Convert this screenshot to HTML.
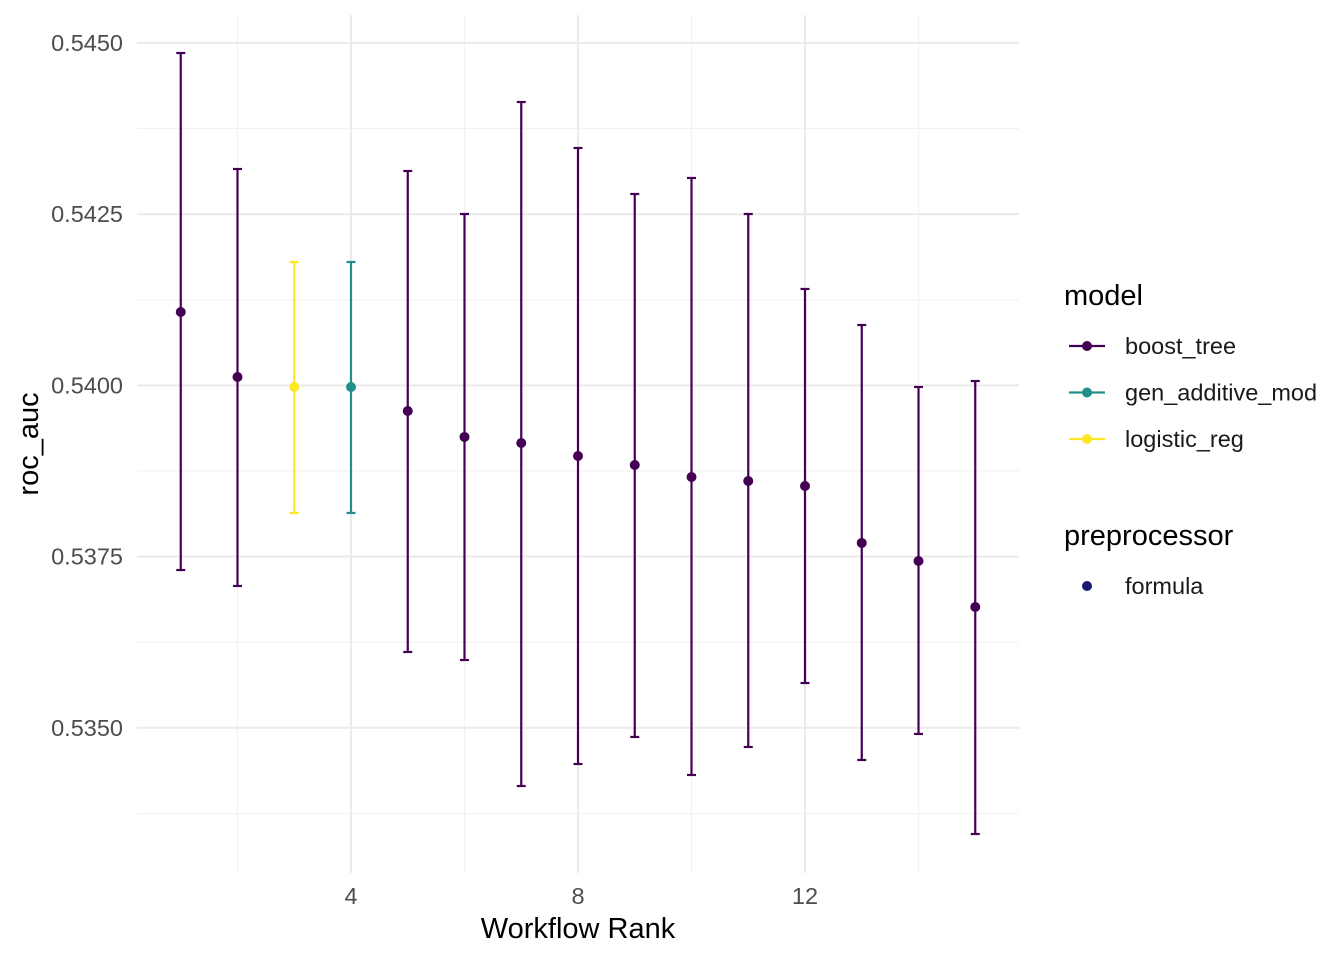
<!DOCTYPE html>
<html><head><meta charset="utf-8"><style>
html,body{margin:0;padding:0;background:#fff;}
svg{display:block;font-family:"Liberation Sans",sans-serif;}
</style></head><body>
<svg id="chart" width="1344" height="960"></svg>
<script>
const ranks=[1,2,3,4,5,6,7,8,9,10,11,12,13,14,15];
const models=["boost_tree","boost_tree","logistic_reg","gen_additive_mod","boost_tree","boost_tree","boost_tree","boost_tree","boost_tree","boost_tree","boost_tree","boost_tree","boost_tree","boost_tree","boost_tree"];
const means=[0.541072,0.540123,0.539977,0.539977,0.539626,0.539247,0.539159,0.538969,0.538838,0.538662,0.538604,0.538531,0.537699,0.537436,0.536764];
const uppers=[0.544854,0.54316,0.541802,0.541802,0.543131,0.542503,0.544138,0.543467,0.542795,0.543029,0.542503,0.541408,0.540882,0.539977,0.540064];
const lowers=[0.537304,0.537071,0.538137,0.538137,0.536107,0.53599,0.53415,0.534471,0.534866,0.534311,0.53472,0.535654,0.53453,0.53491,0.533449];
const xTicks=[4,8,12];
const xMinor=[2,6,10,14];
const yTicks=[0.5350,0.5375,0.5400,0.5425,0.5450];
const yTickLabels=["0.5350","0.5375","0.5400","0.5425","0.5450"];
const yMinor=[0.53375,0.53625,0.53875,0.54125,0.54375];
const legendModels=["boost_tree","gen_additive_mod","logistic_reg"];
const colors={boost_tree:"#440154",gen_additive_mod:"#21908C",logistic_reg:"#FDE725"};

const NS="http://www.w3.org/2000/svg";
const svg=document.getElementById('chart');
const PL=137,PR=1019,PT=15,PB=873;
const xs=v=>351+(v-4)*56.75;
const ys=v=>43+(0.5450-v)/0.0025*171.2;
function mk(tag,attrs,parent){const e=document.createElementNS(NS,tag);for(const k in attrs)e.setAttribute(k,attrs[k]);(parent||svg).appendChild(e);return e;}
function txt(s,attrs,name){const t=mk('text',attrs);t.textContent=s;


return t;}

const grid=mk('g',{});


yMinor.forEach(v=>{const l=mk('line',{x1:PL,x2:PR,y1:ys(v),y2:ys(v),stroke:'#f2f2f2','stroke-width':1.1},grid);

});
xMinor.forEach(v=>{const l=mk('line',{x1:xs(v),x2:xs(v),y1:PT,y2:PB,stroke:'#f2f2f2','stroke-width':1.1},grid);

});
yTicks.forEach((v,i)=>{const l=mk('line',{x1:PL,x2:PR,y1:ys(v),y2:ys(v),stroke:'#ebebeb','stroke-width':2.1},grid);


txt(yTickLabels[i],{x:123,y:ys(v)+8,'text-anchor':'end','font-size':23.5,fill:'#4d4d4d'},'y-tick-label');});
xTicks.forEach(v=>{const l=mk('line',{x1:xs(v),x2:xs(v),y1:PT,y2:PB,stroke:'#ebebeb','stroke-width':2.1},grid);


txt(String(v),{x:xs(v),y:904,'text-anchor':'middle','font-size':23.5,fill:'#4d4d4d'},'x-tick-label');});

ranks.forEach((r,i)=>{
  const c=colors[models[i]],x=xs(r);
  const g=mk('g',{});
  
  
  mk('line',{x1:x,x2:x,y1:ys(uppers[i]),y2:ys(lowers[i]),stroke:c,'stroke-width':2.2},g);
  mk('line',{x1:x-4.5,x2:x+4.5,y1:ys(uppers[i]),y2:ys(uppers[i]),stroke:c,'stroke-width':2.2},g);
  mk('line',{x1:x-4.5,x2:x+4.5,y1:ys(lowers[i]),y2:ys(lowers[i]),stroke:c,'stroke-width':2.2},g);
  const p=mk('circle',{cx:x,cy:ys(means[i]),r:5,fill:c},g);
  
  
});

txt('Workflow Rank',{x:578,y:938,'text-anchor':'middle','font-size':29},'x-axis-title');
txt('roc_auc',{x:38,y:444,'text-anchor':'middle','font-size':29,transform:'rotate(-90 38 444)'},'y-axis-title');

txt('model',{x:1064,y:305,'font-size':29},'legend-title-model');
legendModels.forEach((m,i)=>{
  const y=346+i*46.5;
  const g=mk('g',{});
  
  
  mk('line',{x1:1069,x2:1105,y1:y,y2:y,stroke:colors[m],'stroke-width':2.2},g);
  mk('circle',{cx:1087,cy:y,r:5,fill:colors[m]},g);
  const t=mk('text',{x:1125,y:y+8,'font-size':23.5,fill:'#1a1a1a'},g);t.textContent=m;
});
txt('preprocessor',{x:1064,y:545,'font-size':29},'legend-title-preprocessor');
const pg=mk('g',{});


mk('circle',{cx:1087,cy:586,r:5,fill:'#191970'},pg);
const ft=mk('text',{x:1125,y:594,'font-size':23.5,fill:'#1a1a1a'},pg);ft.textContent='formula';
</script>
</body></html>
